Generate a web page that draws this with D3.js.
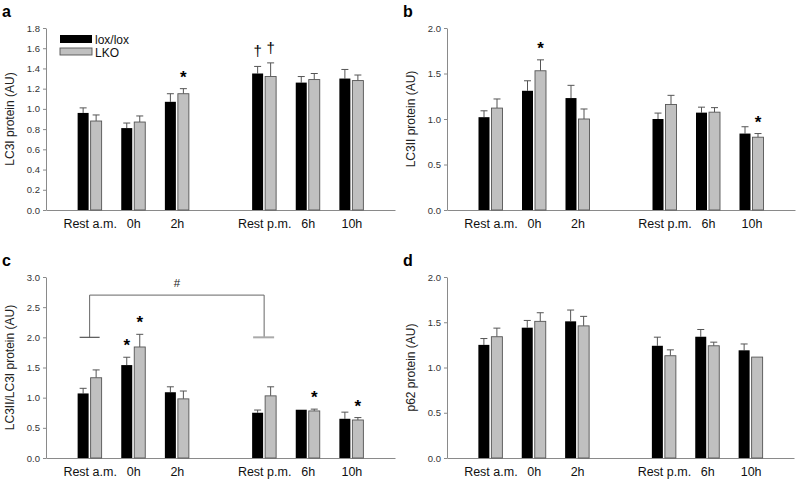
<!DOCTYPE html>
<html><head><meta charset="utf-8">
<script src="https://cdn.jsdelivr.net/npm/d3@7"></script>
<style>
body{margin:0;background:#fff}
svg{display:block}
text{font-family:"Liberation Sans",Arial,Helvetica,sans-serif}
</style>
</head><body>
<svg id="chart" width="798" height="479"></svg>
<script>
// ---------- data ----------
const categories = ["Rest a.m.", "0h", "2h", "Rest p.m.", "6h", "10h"];
const seriesNames = ["lox/lox", "LKO"];

// a: LC3I
const lc3iLox    = [0.96, 0.81, 1.07, 1.35, 1.26, 1.30];
const lc3iLoxErr = [0.05, 0.05, 0.08, 0.07, 0.06, 0.09];
const lc3iLko    = [0.88, 0.87, 1.15, 1.32, 1.29, 1.28];
const lc3iLkoErr = [0.06, 0.06, 0.05, 0.135, 0.06, 0.055];

// b: LC3II
const lc3iiLox    = [1.02, 1.31, 1.23, 1.00, 1.07, 0.84];
const lc3iiLoxErr = [0.07, 0.11, 0.14, 0.065, 0.06, 0.075];
const lc3iiLko    = [1.12, 1.53, 1.00, 1.16, 1.075, 0.80];
const lc3iiLkoErr = [0.10, 0.12, 0.11, 0.10, 0.05, 0.04];

// c: LC3II/LC3I
const ratioLox    = [1.07, 1.54, 1.09, 0.75, 0.80, 0.65];
const ratioLoxErr = [0.085, 0.13, 0.09, 0.045, 0, 0.11];
const ratioLko    = [1.33, 1.84, 0.98, 1.03, 0.78, 0.63];
const ratioLkoErr = [0.13, 0.21, 0.13, 0.15, 0.03, 0.04];

// d: p62
const p62Lox    = [1.25, 1.44, 1.51, 1.24, 1.34, 1.19];
const p62LoxErr = [0.07, 0.08, 0.125, 0.095, 0.08, 0.07];
const p62Lko    = [1.34, 1.51, 1.46, 1.13, 1.24, 1.115];
const p62LkoErr = [0.095, 0.095, 0.105, 0.065, 0.04, 0];

// significance marks: [category, series index, symbol]
const marksA = [["2h", 1, "*"], ["Rest p.m.", 0, "†"], ["Rest p.m.", 1, "†"]];
const marksB = [["0h", 1, "*"], ["10h", 1, "*"]];
const marksC = [["0h", 0, "*"], ["0h", 1, "*"], ["6h", 1, "*"], ["10h", 1, "*"]];
const marksD = [];

// bracket in c: from, to, top value, bottom value, label
const bracketC = ["Rest a.m.", "Rest p.m.", 2.7, 2.0, "#"];

// ---------- drawing ----------
const svg = d3.select("#chart");
const slots = [...categories.slice(0, 3), "__gap__", ...categories.slice(3)];

const panels = [
  {letter: "a", title: "LC3I protein (AU)", left: 46, right: 395, y0: 210, y1: 28, max: 1.8, step: 0.2,
   lox: lc3iLox, loxErr: lc3iLoxErr, lko: lc3iLko, lkoErr: lc3iLkoErr, marks: marksA, legend: true},
  {letter: "b", title: "LC3II protein (AU)", left: 447, right: 795, y0: 210, y1: 28, max: 2.0, step: 0.5,
   lox: lc3iiLox, loxErr: lc3iiLoxErr, lko: lc3iiLko, lkoErr: lc3iiLkoErr, marks: marksB},
  {letter: "c", title: "LC3II/LC3I protein (AU)", left: 46, right: 395, y0: 458, y1: 277, max: 3.0, step: 0.5,
   lox: ratioLox, loxErr: ratioLoxErr, lko: ratioLko, lkoErr: ratioLkoErr, marks: marksC, bracket: bracketC},
  {letter: "d", title: "p62 protein (AU)", left: 447, right: 794, y0: 458, y1: 277, max: 2.0, step: 0.5,
   lox: p62Lox, loxErr: p62LoxErr, lko: p62Lko, lkoErr: p62LkoErr, marks: marksD}
];

const barW = 11;
const fills = ["#000000", "#c0c0c0"];
const axisCol = "#8a8a8a";
const errCol = "#555";

panels.forEach(p => {
  const g = svg.append("g");
  const x = d3.scalePoint().domain(slots).range([p.left, p.right]).padding(1);
  const y = d3.scaleLinear().domain([0, p.max]).range([p.y0, p.y1]);
  const ticks = d3.range(0, p.max + 1e-9, p.step);

  // letter
  g.append("text").attr("x", p.left - 44).attr("y", p.y1 - 11)
    .attr("font-size", 16).attr("font-weight", "bold").attr("fill", "#000").text(p.letter);

  // y axis
  const ya = g.append("g").attr("transform", `translate(${p.left},0)`)
    .call(d3.axisLeft(y).tickValues(ticks).tickFormat(d3.format(".1f")).tickSize(3).tickSizeOuter(0).tickPadding(3));
  ya.select(".domain").attr("stroke", axisCol);
  ya.selectAll(".tick line").attr("stroke", axisCol);
  ya.selectAll(".tick text").attr("font-size", 9.5).attr("fill", "#333")
    .attr("font-family", '"Liberation Sans",Arial,sans-serif');

  // x axis
  const xa = g.append("g").attr("transform", `translate(0,${p.y0})`)
    .call(d3.axisBottom(x).tickValues(categories).tickSize(0).tickSizeOuter(0).tickPadding(9));
  xa.select(".domain").attr("stroke", axisCol);
  xa.selectAll(".tick text").attr("font-size", 12.5).attr("fill", "#111")
    .attr("font-family", '"Liberation Sans",Arial,sans-serif');

  // y title
  g.append("text").attr("transform", `translate(${p.left - 36},${(p.y0 + p.y1) / 2}) rotate(-90)`)
    .attr("text-anchor", "middle").attr("dy", "0.35em").attr("font-size", 12).attr("fill", "#222")
    .text(p.title);

  const series = [
    {vals: p.lox, errs: p.loxErr, off: -12},
    {vals: p.lko, errs: p.lkoErr, off: 1}
  ];

  series.forEach((s, si) => {
    const rows = categories.map((c, i) => ({c, v: s.vals[i], e: s.errs[i]}));
    const eb = g.append("g").attr("stroke", errCol).attr("stroke-width", 1);
    rows.filter(r => r.e > 0).forEach(r => {
      const cx = x(r.c) + s.off + barW / 2;
      eb.append("line").attr("x1", cx).attr("x2", cx).attr("y1", y(r.v)).attr("y2", y(r.v + r.e));
      eb.append("line").attr("x1", cx - 3.5).attr("x2", cx + 3.5).attr("y1", y(r.v + r.e)).attr("y2", y(r.v + r.e));
    });
    g.append("g").selectAll("rect").data(rows).join("rect")
      .attr("x", r => x(r.c) + s.off)
      .attr("y", r => y(r.v))
      .attr("width", barW)
      .attr("height", r => p.y0 - y(r.v))
      .attr("fill", fills[si])
      .attr("stroke", si === 1 ? "#555" : "none")
      .attr("stroke-width", 0.9);
  });

  // significance marks
  p.marks.forEach(([c, si, sym]) => {
    const i = categories.indexOf(c);
    const s = series[si];
    const top = y(s.vals[i] + s.errs[i]);
    const cx = x(c) + s.off + barW / 2;
    if (sym === "*") {
      g.append("text").attr("x", cx).attr("y", top - 6).attr("text-anchor", "middle")
        .attr("font-size", 17).attr("font-weight", "bold").attr("fill", "#000").text(sym);
    } else {
      g.append("text").attr("x", cx).attr("y", top - 10).attr("text-anchor", "middle")
        .attr("font-size", 15).attr("font-family", '"DejaVu Sans",sans-serif').attr("fill", "#000").text(sym);
    }
  });

  // bracket
  if (p.bracket) {
    const [from, to, topV, botV, lab] = p.bracket;
    const xa1 = x(from), xa2 = x(to);
    g.append("path").attr("fill", "none").attr("stroke", "#666").attr("stroke-width", 1)
      .attr("d", `M${xa1},${y(botV)}V${y(topV)}H${xa2}V${y(botV)}`);
    g.append("line").attr("x1", xa1 - 10).attr("x2", xa1 + 10).attr("y1", y(botV)).attr("y2", y(botV))
      .attr("stroke", "#555").attr("stroke-width", 1.2);
    g.append("line").attr("x1", xa2 - 11).attr("x2", xa2 + 10).attr("y1", y(botV)).attr("y2", y(botV))
      .attr("stroke", "#aaa").attr("stroke-width", 2);
    g.append("text").attr("x", (xa1 + xa2) / 2).attr("y", y(topV) - 8).attr("text-anchor", "middle")
      .attr("font-size", 11.5).attr("fill", "#222").text(lab);
  }

  // legend
  if (p.legend) {
    const lg = g.append("g");
    seriesNames.forEach((n, i) => {
      lg.append("rect").attr("x", 60).attr("y", 35 + i * 13).attr("width", 32).attr("height", i ? 7 : 8)
        .attr("fill", fills[i]).attr("stroke", i ? "#555" : "none").attr("stroke-width", 0.9);
      lg.append("text").attr("x", 95).attr("y", 43.5 + i * 13).attr("font-size", 12).attr("fill", "#111").text(n);
    });
  }
});
</script>
</body></html>
